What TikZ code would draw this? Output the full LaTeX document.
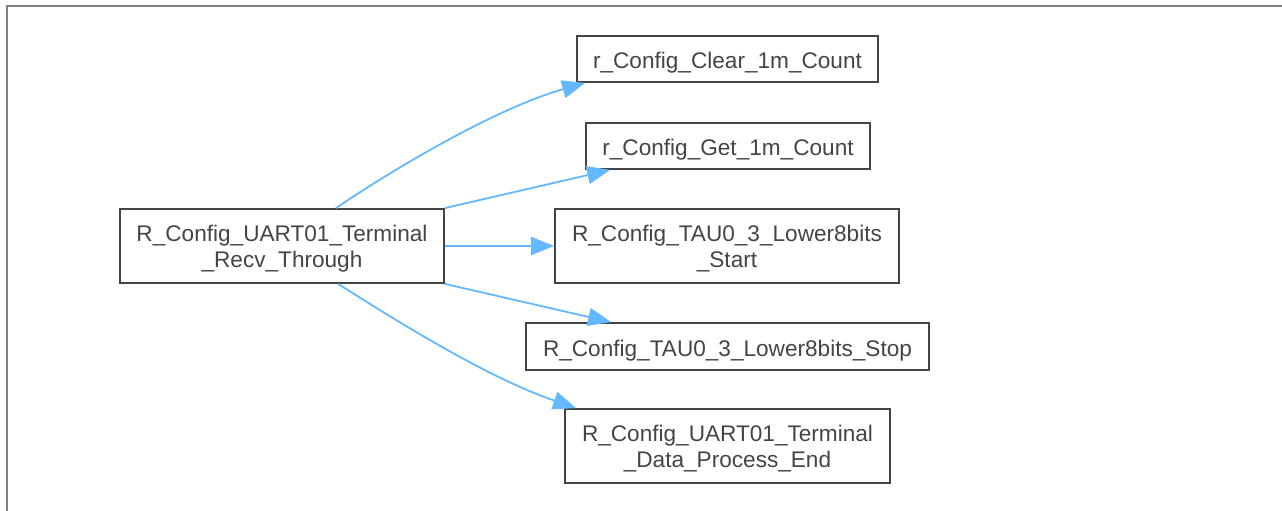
\documentclass[tikz,border=0pt]{standalone}
\usepackage{fontspec}
\setmainfont{Liberation Sans}
\usetikzlibrary{arrows.meta}
\definecolor{edgeblue}{HTML}{63B8FF}
\definecolor{boxgray}{HTML}{444444}
\definecolor{framegray}{HTML}{808080}
\begin{document}
\begin{tikzpicture}[x=1pt,y=-1pt,
  fn/.style={draw=boxgray, line width=1.8pt, inner sep=0pt},
  txt/.style={text=boxgray, inner sep=0pt, align=center,
    font=\fontsize{22.6}{26}\selectfont},
  one/.style={txt, yshift=-4pt},
  two/.style={txt, yshift=-3pt},
  call/.style={draw=edgeblue, line width=1.8pt, -{Triangle[length=23pt,width=18pt]}}]
\useasboundingbox (0,0) rectangle (1282,511);
\draw[framegray, line width=2pt] (6.5,511) -- (6.5,6.5) -- (1282,6.5);
\node[fn, minimum width=324pt, minimum height=74pt] (main) at (282,246) {};
\node[two] (main-t) at (main) {R\_Config\_UART01\_Terminal\\\_Recv\_Through};
\node[fn, minimum width=301pt, minimum height=46pt] (clear) at (727.5,59) {};
\node[one] (clear-t) at (clear) {r\_Config\_Clear\_1m\_Count};
\node[fn, minimum width=284pt, minimum height=46pt] (get) at (728,146) {};
\node[one] (get-t) at (get) {r\_Config\_Get\_1m\_Count};
\node[fn, minimum width=344pt, minimum height=74pt] (start) at (727,246) {};
\node[two] (start-t) at (start) {R\_Config\_TAU0\_3\_Lower8bits\\\_Start};
\node[fn, minimum width=403pt, minimum height=47pt] (stop) at (727.5,346.5) {};
\node[one] (stop-t) at (stop) {R\_Config\_TAU0\_3\_Lower8bits\_Stop};
\node[fn, minimum width=325pt, minimum height=74pt] (end) at (727.5,446) {};
\node[two] (end-t) at (end) {R\_Config\_UART01\_Terminal\\\_Data\_Process\_End};
\draw[call] ([xshift=54pt]main.north) .. controls (380,178) and (490,110) .. ([xshift=9pt]clear.south west);
\draw[call] (main.north east) -- ([xshift=25pt]get.south west);
\draw[call] (main.east) -- (start.west);
\draw[call] (main.south east) -- ([xshift=86pt]stop.north west);
\draw[call] ([xshift=56pt]main.south) .. controls (380,310) and (480,375) .. ([xshift=12pt]end.north west);
\end{tikzpicture}
\end{document}
